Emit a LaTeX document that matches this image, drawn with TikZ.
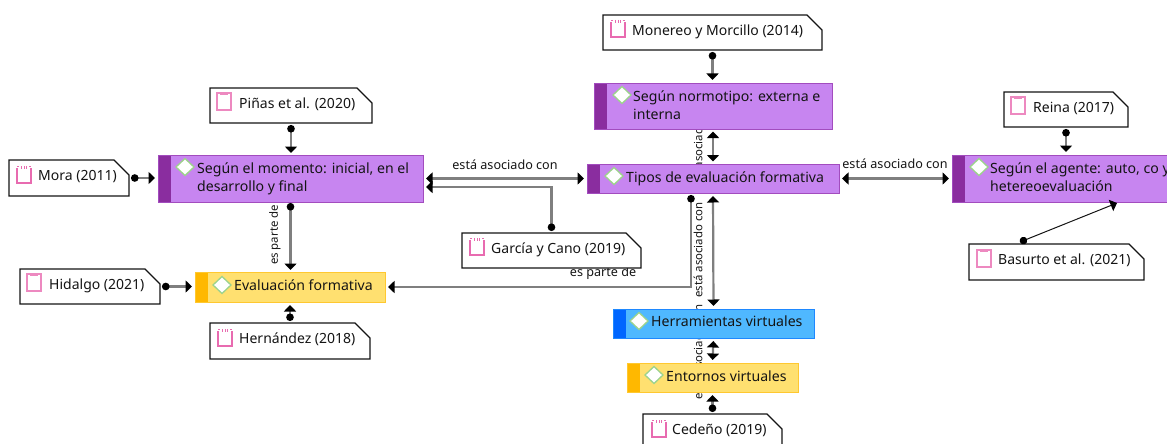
\documentclass[tikz,border=0pt]{standalone}
\usepackage{fontspec}
\setmainfont{Noto Sans}
\usetikzlibrary{arrows.meta,calc}
\definecolor{purF}{HTML}{C785F0}\definecolor{purD}{HTML}{8A2D9F}\definecolor{purB}{HTML}{A24CBE}
\definecolor{yelF}{HTML}{FFE070}\definecolor{yelD}{HTML}{FFB800}\definecolor{yelB}{HTML}{FFC830}
\definecolor{bluF}{HTML}{4FB8FF}\definecolor{bluD}{HTML}{0066FF}\definecolor{bluB}{HTML}{1E88FF}
\definecolor{inkT}{HTML}{141414}\definecolor{shaft}{HTML}{7F7F7F}
\definecolor{grn}{HTML}{9CD38C}\definecolor{pnk}{HTML}{E86BB0}
\tikzset{
 topicbox/.style={minimum width=#1,inner sep=0pt,outer sep=0pt,line width=1pt},
 notebase/.style={minimum width=#1,inner sep=0pt,outer sep=0pt},
 ttext/.style={anchor=north west,inner sep=0pt,align=left,text=inkT,font=\fontsize{14.1}{18.7}\selectfont},
 ntext/.style={anchor=west,inner sep=0pt,text=inkT,font=\fontsize{14}{15}\selectfont},
 lab/.style={inner sep=0pt,text=inkT,font=\fontsize{12.6}{13}\selectfont},
 vlab/.style={inner sep=0pt,text=inkT,rotate=90,font=\fontsize{11.4}{13}\selectfont},
 conn/.style={draw=shaft,line width=2.2pt,shorten <=#1},
 conn/.default=2pt,
 dotarrow/.style={{Circle[length=7.5pt,black]}-{Triangle[width=12pt,length=6.5pt,black]}},
 twoarrow/.style={{Triangle[width=12pt,length=6.5pt,black]}-{Triangle[width=12pt,length=6.5pt,black]}},
}
\newcommand{\topicnode}[9]{% name x1 y1 x2 y2 fill dark border barw
 \node[topicbox={#4pt-#2pt},minimum height={#5pt-#3pt},draw=#8,fill=#6] (#1) at ({(#2+#4)/2},{(#3+#5)/2}) {};
 \fill[#7] (#2,#3) rectangle ({#2+#9},#5);
 \draw[#8,line width=1pt] (#2,#3) rectangle (#4,#5);
}
\newcommand{\gem}[2]{\filldraw[fill=white,draw=grn,line width=1.3pt] (#1-9,#2) -- (#1,#2-8.5) -- (#1+9,#2) -- (#1,#2+8.5) -- cycle;}
\newcommand{\notenode}[6]{% name x1 y1 x2 y2 text
 \node[notebase={#4pt-#2pt},minimum height={#5pt-#3pt}] (#1) at ({(#2+#4)/2},{(#3+#5)/2}) {};
 \draw[fill=white,draw=inkT,line width=1.1pt] (#1.north west) -- ($(#1.north east)+(-15,0)$) -- ($(#1.north east)+(0,15)$) -- (#1.south east) -- (#1.south west) -- cycle;
 \node[ntext] (#1-t) at ($(#1.north west)+(29,16.5)$) {#6};
}
\newcommand{\clipicon}[2]{\draw[pnk!80,line width=1.2pt] (#1,#2) rectangle (#1+14,#2+17);\fill[pnk!80] (#1+3,#2-1) rectangle (#1+11,#2+1.5);}
\newcommand{\padicon}[2]{\draw[pnk,line width=1.1pt] (#1,#2+2) -- (#1,#2+17) -- (#1+14,#2+17) -- (#1+14,#2+2);\draw[pnk,line width=1.1pt] (#1,#2+.5) -- (#1+2,#2+.5) (#1+12,#2+.5) -- (#1+14,#2+.5);\draw[pnk,line width=1pt] (#1+4.5,#2) -- (#1+4.5,#2+3) (#1+7,#2) -- (#1+7,#2+3) (#1+9.5,#2) -- (#1+9.5,#2+3);}
\begin{document}
\begin{tikzpicture}[x=1pt,y=-1pt]
\useasboundingbox (0,0) rectangle (1167,444);
\clip (0,0) rectangle (1167,444);
% labels lying behind the boxes
\node[vlab] (lv0) at (698,146) {está asociado con};
\node[vlab] (lv1) at (698,250) {está asociado con};
\node[vlab] (lv2) at (698,352) {está asociado con};
\node[vlab] (lv3) at (275,235) {es parte de};
\node[lab] (lh1) at (505,165) {está asociado con};
\node[lab] (lh2) at (895,164) {está asociado con};
\node[lab] (lh3) at (603,273) {es parte de};
% topics
\topicnode{momento}{158}{155}{423}{202}{purF}{purD}{purB}{13}
\topicnode{normo}{594}{83}{832}{129}{purF}{purD}{purB}{13}
\topicnode{tipos}{587}{164}{839}{193}{purF}{purD}{purB}{13}
\topicnode{agente}{952}{155}{1230}{202}{purF}{purD}{purB}{13}
\topicnode{evalf}{195}{272}{385}{302}{yelF}{yelD}{yelB}{13}
\topicnode{herr}{613}{309}{814}{338}{bluF}{bluD}{bluB}{13}
\topicnode{ento}{627}{363}{798}{392}{yelF}{yelD}{yelB}{13}
\gem{185}{167}\gem{622}{95}\gem{614}{176}\gem{979}{167}\gem{222}{285}\gem{639}{321}\gem{654}{375}
\node[ttext] (momento-t) at (197,162) {Según el momento: inicial, en el\\desarrollo y final};
\node[ttext] (normo-t) at (633,90) {Según normotipo: externa e\\interna};
\node[ttext] (tipos-t) at (626,171) {Tipos de evaluación formativa};
\node[ttext] (agente-t) at (990,162) {Según el agente: auto, co y\\hetereoevaluación};
\node[ttext] (evalf-t) at (234,279) {Evaluación formativa};
\node[ttext] (herr-t) at (651,316) {Herramientas virtuales};
\node[ttext] (ento-t) at (666,370.5) {Entornos virtuales};
% notes
\notenode{mora}{9}{160}{129}{196}{Mora (2011)}\padicon{17}{166}
\notenode{pinas}{210}{88}{372}{123}{Piñas et al. (2020)}\clipicon{217}{93}
\notenode{monereo}{603}{15}{822}{50}{Monereo y Morcillo (2014)}\padicon{611}{20}
\notenode{reina}{1004}{92}{1128}{127}{Reina (2017)}\clipicon{1011}{97}
\notenode{basurto}{969}{244}{1144}{280}{Basurto et al. (2021)}\clipicon{977}{250}
\notenode{garcia}{462}{233}{641}{268}{García y Cano (2019)}\padicon{470}{238}
\notenode{hidalgo}{20}{269}{160}{304}{Hidalgo (2021)}\clipicon{27}{274}
\notenode{hernandez}{210}{323}{370}{359}{Hernández (2018)}\padicon{218}{329}
\notenode{cedeno}{643}{414}{782}{452}{Cedeño (2019)}\padicon{652}{420}
% connectors
\draw[conn,dotarrow,shorten >=3pt] (mora.east) -- (mora.east -| momento.west);
\draw[conn,dotarrow,shorten >=2pt] (pinas.south) -- (pinas.south |- momento.north);
\draw[conn=1pt,dotarrow,shorten >=2pt] (momento.south) -- (momento.south |- evalf.north);
\draw[conn,dotarrow,shorten >=3pt] (hidalgo.east) -- (hidalgo.east -| evalf.west);
\draw[conn,dotarrow,shorten >=3pt] (hernandez.north) -- (hernandez.north |- evalf.south);
\draw[conn,dotarrow,shorten >=3pt] ($(tipos.south west)+(104,0)$) |- (evalf.east);
\draw[conn,dotarrow,shorten >=3pt] (garcia.north) |- ($(momento.south east)+(0,-15)$);
\draw[conn=3pt,twoarrow,shorten >=3pt] (momento.east) -- (tipos.west);
\draw[conn,dotarrow,shorten >=3pt] (monereo.south) -- (monereo.south |- normo.north);
\draw[conn=2.5pt,twoarrow,shorten >=2.5pt] (normo.south) -- (tipos.north);
\draw[conn=3pt,twoarrow,shorten >=3pt] (tipos.south) -- (herr.north);
\draw[conn=3pt,twoarrow,shorten >=3pt] (herr.south) -- (ento.north);
\draw[conn,dotarrow,shorten >=3pt] (cedeno.north) -- (cedeno.north |- ento.south);
\draw[conn=3pt,twoarrow,shorten >=3pt] (tipos.east) -- (agente.west);
\draw[conn,dotarrow,shorten >=3pt] (reina.south) -- (reina.south |- agente.north);
\draw[draw=inkT,line width=1pt,dotarrow] ($(basurto.north west)+(51,-2)$) -- ($(agente.south west)+(165,1)$);
\end{tikzpicture}
\end{document}
